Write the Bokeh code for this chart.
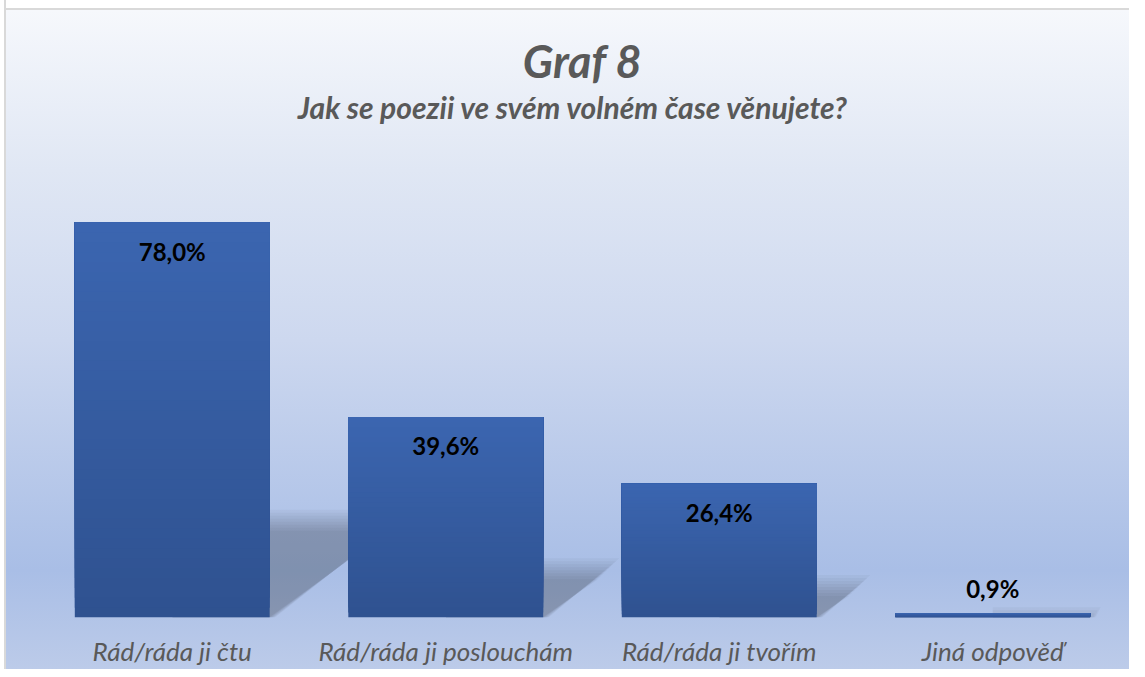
from bokeh.plotting import figure
from bokeh.models import FactorRange, Range1d, ColumnDataSource
from bokeh.core.properties import value
from bokeh.embed import file_html
from bokeh.resources import INLINE

# ---- data ----
categories = ["Rád/ráda ji čtu", "Rád/ráda ji poslouchám", "Rád/ráda ji tvořím", "Jiná odpověď"]
values = [78.0, 39.6, 26.4, 0.9]
value_labels = ["78,0%", "39,6%", "26,4%", "0,9%"]
title_text = "Graf 8"
subtitle_text = "Jak se poezii ve svém volném čase věnujete?"

# ---- styling ----
FONT = "Lato"
BAR_W = 0.7125
TOP_COL = (0x3B, 0x65, 0xB0)
BOT_COL = (0x2F, 0x52, 0x90)
PX_PER_UNIT_Y = 5.064
FRAME_H = 617
PX_X = 273.5

p = figure(width=1129, height=669, x_range=FactorRange(*categories),
           y_range=Range1d(0, FRAME_H / PX_PER_UNIT_Y),
           output_backend="svg", toolbar_location=None, y_axis_location=None,
           min_border_left=35, min_border_right=0, min_border_top=0, min_border_bottom=52)
p.background_fill_color = None
p.border_fill_color = None
p.outline_line_color = None
p.xgrid.visible = False
p.ygrid.visible = False
p.styles = {
    "background": ("linear-gradient(90deg, #ffffff 0px, #ffffff 4px, #d9d9d9 4px, #d9d9d9 6px, rgba(255,255,255,0) 6px), "
                   "linear-gradient(180deg, #ffffff 0px, #ffffff 8px, #d9d9d9 8px, #d9d9d9 10px, #f6f8fc 10px, "
                   "#e0e7f4 170px, #cdd8ef 340px, #a9bee6 570px, #bccbe9 669px)")
}

# ---- shadows (perspective, blurred via layers) ----
for i, v in enumerate(values):
    c = i + 0.5
    xr = c + BAR_W / 2
    hs = 0.25 * v
    d = 0.0062 * v
    xs_list, ys_list = [], []
    for k in range(-3, 5):
        dy = k * 3.0 / PX_PER_UNIT_Y
        dx = k * 3.0 / PX_X
        top = max(hs - dy, 0)
        xs_list.append([c, c, xr + d - dx, xr + 0.01 - dx * 0.3])
        ys_list.append([0, top, top, 0])
    p.patches(xs_list, ys_list, fill_color="black", fill_alpha=0.03, line_color=None)

# ---- bars with vertical gradient ----
N = 40
bx, bb, bt, bc = [], [], [], []
for cat, v in zip(categories, values):
    for j in range(N):
        f = j / (N - 1)
        col = tuple(int(round(BOT_COL[m] + (TOP_COL[m] - BOT_COL[m]) * f)) for m in range(3))
        bx.append(cat)
        bb.append(v * j / N)
        bt.append(v)
        bc.append("#%02x%02x%02x" % col)
p.vbar(x=bx, bottom=bb, top=bt, width=BAR_W, fill_color=bc, line_color=None)

# ---- value labels ----
offs = [29 if v > 5 else -24 for v in values]
src = ColumnDataSource(dict(x=categories, y=values, t=value_labels, o=offs))
p.text(x="x", y="y", text="t", y_offset="o", source=src, text_align="center",
       text_baseline="alphabetic", text_font=value(FONT), text_font_style="bold",
       text_font_size="24px", text_color="black")

# ---- titles ----
p.text(x=[2.0], y=[(FRAME_H - 60) / PX_PER_UNIT_Y], text=[title_text], text_align="center",
       text_baseline="alphabetic", text_font=value(FONT), text_font_style="bold italic",
       text_font_size="45px", text_color="#595959")
p.text(x=[1.967], y=[(FRAME_H - 106.7) / PX_PER_UNIT_Y], text=[subtitle_text], text_align="center",
       text_baseline="alphabetic", text_font=value(FONT), text_font_style="bold italic",
       text_font_size="30px", text_color="#595959")

# ---- x axis ----
ax = p.xaxis[0]
ax.axis_line_color = None
ax.major_tick_line_color = None
ax.minor_tick_line_color = None
ax.major_tick_out = 0
ax.major_tick_in = 0
ax.major_label_standoff = 17
ax.major_label_text_font = FONT
ax.major_label_text_font_style = "italic"
ax.major_label_text_font_size = "26px"
ax.major_label_text_color = "#595959"

open("out.html", "w").write(file_html(p, INLINE))
